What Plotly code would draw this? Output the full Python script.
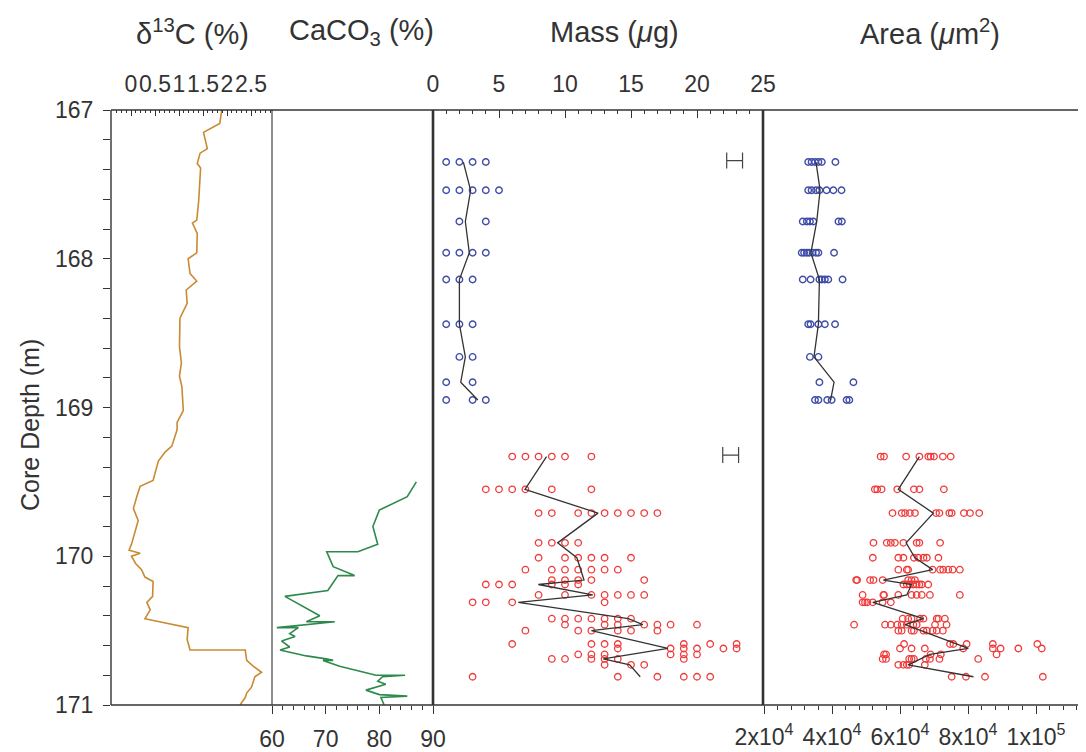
import plotly.graph_objects as go

# page body adds an 8px margin; the figure is sized so it ends at the window edge
PAGE_OFF = 8
WIN_W, WIN_H = 1086, 752
W, H = WIN_W - PAGE_OFF, WIN_H - PAGE_OFF

# ---------------- data ----------------
d13c_depth = [167.00, 167.09, 167.15, 167.26, 167.29, 167.36, 167.39, 167.61, 167.74, 167.76,
              167.83, 167.96, 168.00, 168.10, 168.15, 168.21, 168.30, 168.40, 168.59, 168.70,
              168.79, 168.86, 169.02, 169.10, 169.15, 169.26, 169.30, 169.36, 169.49, 169.53,
              169.60, 169.68, 169.76, 169.85, 169.92, 169.96, 169.98, 170.00, 170.05, 170.09,
              170.14, 170.17, 170.27, 170.31, 170.36, 170.42, 170.45, 170.48, 170.56, 170.63,
              170.63, 170.70, 170.74, 170.78, 170.81, 170.88, 170.92, 170.95, 171.00]
d13c_value = [1.89, 1.85, 1.51, 1.59, 1.44, 1.38, 1.45, 1.41, 1.37, 1.28,
              1.38, 1.37, 1.19, 1.23, 1.37, 1.15, 1.17, 1.02, 1.01, 1.05,
              1.01, 1.06, 1.09, 0.96, 0.96, 0.85, 0.71, 0.57, 0.46, 0.19,
              0.12, 0.05, 0.15, 0.08, 0.01, -0.04, 0.19, 0.01, 0.10, 0.22,
              0.29, 0.46, 0.45, 0.33, 0.40, 0.29, 0.74, 1.19, 1.17, 1.23,
              2.38, 2.41, 2.55, 2.72, 2.58, 2.51, 2.41, 2.38, 2.27]

caco3_depth = [169.50, 169.60, 169.69, 169.80, 169.92, 169.97, 169.97, 170.07, 170.13, 170.13,
               170.23, 170.27, 170.40, 170.44, 170.44, 170.48, 170.48, 170.52, 170.54, 170.57,
               170.61, 170.63, 170.64, 170.67, 170.69, 170.70, 170.70, 170.74, 170.80, 170.80,
               170.81, 170.84, 170.86, 170.90, 170.93, 170.94, 170.95, 171.00]
caco3_value = [86.9, 85.2, 80.0, 78.8, 79.7, 76.0, 70.2, 71.4, 75.4, 72.3,
               70.4, 62.4, 68.9, 66.4, 71.7, 60.9, 64.9, 63.3, 64.3, 61.8,
               63.3, 61.5, 62.7, 66.4, 70.1, 71.4, 69.5, 72.6, 79.4, 84.8,
               80.6, 79.7, 81.2, 77.5, 80.0, 85.2, 80.3, 80.9]

# upper (blue) sample levels
blue_depth = [167.35, 167.54, 167.75, 167.96, 168.14, 168.44, 168.66, 168.83, 168.95]
blue_mass_rows = [[1, 2, 3, 4], [1, 2, 3, 4, 5], [2, 4], [1, 2, 3, 4], [1, 2, 3],
                  [1, 2, 3], [2, 3], [1, 3], [1, 3, 4]]
blue_mass_mean = [2.3, 2.85, 2.45, 2.75, 2.0, 2.0, 2.45, 2.1, 3.4]
blue_area_rows = [[33000, 34000, 35000, 36000, 37000, 41000],
                  [33000, 34000, 35300, 36300, 38400, 40400, 42800],
                  [31400, 32600, 33500, 34500, 41900, 42900],
                  [31100, 31800, 32600, 33300, 34300, 35300, 36000, 40600],
                  [31400, 33700, 36300, 37000, 37900, 38900, 43100],
                  [33000, 33700, 36000, 37900, 40900],
                  [33500, 36000],
                  [36300, 46300],
                  [35000, 36000, 38600, 39900, 44300, 45100]]
blue_area_mean = [35300, 36500, 35500, 33800, 36300, 36000, 34700, 40600, 39600]

# lower (red) sample levels
red_depth = [169.33, 169.55, 169.71, 169.91, 170.01, 170.09, 170.16, 170.19, 170.26, 170.31,
             170.42, 170.46, 170.50, 170.59, 170.62, 170.66, 170.69, 170.73, 170.81]
red_mass_rows = [[6, 7, 8, 9, 10, 12], [4, 5, 6, 7, 9, 12], [8, 9, 11, 12, 13, 14, 15, 16, 17],
                 [8, 9, 10, 11], [8, 10, 11, 12, 13, 15], [7, 9, 10, 11, 12, 13, 14],
                 [9, 10, 11, 12, 16], [4, 5, 6, 9, 10, 11], [8, 10, 12, 13, 14, 15, 16],
                 [3, 4, 6, 13], [9, 10, 11, 12, 13, 14, 15], [10, 13, 14, 16, 17, 18, 20],
                 [7, 11, 12, 14, 15, 17], [6, 12, 13, 14, 19, 21, 23], [14, 18, 19, 20, 22, 23],
                 [11, 12, 13, 18, 19, 20], [9, 10, 12, 13, 14, 19], [13, 15, 16],
                 [3, 14, 17, 19, 20, 21]]
red_mass_mean_depth = [169.33, 169.55, 169.71, 169.91, 170.01, 170.16, 170.19, 170.26, 170.31,
                       170.42, 170.46, 170.50, 170.62, 170.69, 170.73, 170.81]
red_mass_mean = [8.6, 6.97, 12.5, 9.44, 10.9, 11.44, 7.98, 12.1, 6.46,
                 14.8, 15.9, 12.0, 17.8, 12.9, 14.9, 15.7]
red_area_rows = [[54300, 55300, 61800, 65700, 68300, 69000, 70000, 72600, 74900],
                 [52600, 53300, 54600, 59200, 64100, 65700, 72900],
                 [57800, 60500, 61500, 62900, 64400, 70600, 71600, 74500, 75200, 78800, 80600, 83300],
                 [52200, 56100, 57300, 58500, 61000, 64900, 65700, 71800],
                 [52000, 59500, 61000, 64100, 65400, 66900, 67900, 71300],
                 [59500, 62000, 62400, 69600, 71800, 72700, 74200, 75500, 77600],
                 [47100, 47400, 51200, 52200, 54900, 62400, 63400, 64400],
                 [61000, 62000, 62900, 63900, 64900, 65700, 66400, 68300],
                 [49000, 55100, 55300, 59500, 63400, 64900, 66400, 68800, 77600],
                 [49000, 49700, 50400, 52000, 54900, 57300],
                 [60800, 62400, 63400, 65900, 66900, 70800, 71300, 73200],
                 [46500, 55600, 57300, 59200, 60500, 62000, 63900, 64900, 70300, 73700],
                 [59500, 60500, 63400, 64100, 66900, 67900, 69600, 70800, 72600],
                 [61200, 74700, 75700, 79600, 87300, 100400],
                 [60000, 63400, 67300, 78600, 87300, 89600, 94800, 101700],
                 [55300, 55900, 69000, 72000, 88400],
                 [54900, 55900, 62700, 63400, 64100, 67600, 68800, 71600, 83000],
                 [59500, 61000, 62000, 62700, 67300],
                 [75200, 79400, 85000, 102000]]
red_area_mean_depth = [169.33, 169.55, 169.71, 169.91, 170.01, 170.09, 170.16, 170.19, 170.26,
                       170.31, 170.42, 170.46, 170.62, 170.66, 170.73, 170.81]
red_area_mean = [65700, 59500, 69800, 61800, 64400, 69600, 55100, 63400, 62000,
                 52000, 66900, 61500, 80100, 68800, 62400, 81600]

# error-bar glyphs ("H") shown in the mass panel
err_mass = [22.85, 22.55]
err_depth = [167.34, 169.32]
err_half = [0.6, 0.6]

d13c_ticks = [0, 0.5, 1, 1.5, 2, 2.5]
caco3_ticks = [60, 70, 80, 90]
mass_ticks = [0, 5, 10, 15, 20, 25]
area_ticks = [20000, 40000, 60000, 80000, 100000]
area_ticktext = ["2x10<sup>4</sup>", "4x10<sup>4</sup>", "6x10<sup>4</sup>",
                 "8x10<sup>4</sup>", "1x10<sup>5</sup>"]
depth_ticks = [167, 168, 169, 170, 171]


def flatten(depths, rows):
    xs, ys = [], []
    for d, r in zip(depths, rows):
        for v in r:
            xs.append(v)
            ys.append(d)
    return xs, ys


# ---------------- styles ----------------
FONT = "Liberation Sans, Arial, Helvetica, sans-serif"
TXT = "#333333"
LINE = "#333333"
BLUE = "#3F4CA8"
RED = "#F03A3A"
ORANGE = "#C98A33"
GREEN = "#2E8A4C"
MEAN = "#333333"
tickfont = dict(family=FONT, size=23, color=TXT)

fig = go.Figure()

fig.add_trace(go.Scatter(x=d13c_value, y=d13c_depth, mode="lines", xaxis="x", yaxis="y",
                         line=dict(color=ORANGE, width=1.6), showlegend=False))
fig.add_trace(go.Scatter(x=caco3_value, y=caco3_depth, mode="lines", xaxis="x2", yaxis="y",
                         line=dict(color=GREEN, width=1.6), showlegend=False))

bx, by = flatten(blue_depth, blue_mass_rows)
rx, ry = flatten(red_depth, red_mass_rows)
marker_b = dict(symbol="circle-open", size=6.5, color=BLUE, line=dict(width=1.4, color=BLUE))
marker_r = dict(symbol="circle-open", size=6.5, color=RED, line=dict(width=1.3, color=RED))

fig.add_trace(go.Scatter(x=bx, y=by, mode="markers", xaxis="x3", yaxis="y",
                         marker=marker_b, showlegend=False))
fig.add_trace(go.Scatter(x=rx, y=ry, mode="markers", xaxis="x3", yaxis="y",
                         marker=marker_r, showlegend=False))
fig.add_trace(go.Scatter(x=blue_mass_mean, y=blue_depth, mode="lines", xaxis="x3", yaxis="y",
                         line=dict(color=MEAN, width=1.3), showlegend=False))
fig.add_trace(go.Scatter(x=red_mass_mean, y=red_mass_mean_depth, mode="lines", xaxis="x3", yaxis="y",
                         line=dict(color=MEAN, width=1.3), showlegend=False))
fig.add_trace(go.Scatter(x=err_mass, y=err_depth, mode="markers", xaxis="x3", yaxis="y",
                         marker=dict(size=1, color="rgba(0,0,0,0)"),
                         error_x=dict(type="data", array=err_half, color="#444444",
                                      thickness=1.2, width=8),
                         showlegend=False))

bax, bay = flatten(blue_depth, blue_area_rows)
rax, ray = flatten(red_depth, red_area_rows)
fig.add_trace(go.Scatter(x=bax, y=bay, mode="markers", xaxis="x4", yaxis="y",
                         marker=marker_b, showlegend=False))
fig.add_trace(go.Scatter(x=rax, y=ray, mode="markers", xaxis="x4", yaxis="y",
                         marker=marker_r, showlegend=False))
fig.add_trace(go.Scatter(x=blue_area_mean, y=blue_depth, mode="lines", xaxis="x4", yaxis="y",
                         line=dict(color=MEAN, width=1.3), showlegend=False))
fig.add_trace(go.Scatter(x=red_area_mean, y=red_area_mean_depth, mode="lines", xaxis="x4", yaxis="y",
                         line=dict(color=MEAN, width=1.3), showlegend=False))

# ---------------- layout (window pixel positions) ----------------
X0, X1, X2, X3 = 111, 272, 433, 763
YT, YB = 110, 705


def px(p):
    return (p - PAGE_OFF) / W


def py(p):
    return 1 - (p - PAGE_OFF) / H


common = dict(showgrid=False, zeroline=False, showline=False, anchor="y", automargin=False,
              tickcolor=LINE, tickwidth=1, tickfont=tickfont, tickangle=0, tickmode="array")

fig.update_layout(
    width=W, height=H, margin=dict(l=0, r=0, t=0, b=0, autoexpand=False),
    paper_bgcolor="white", plot_bgcolor="white",
    xaxis=dict(domain=[px(X0), px(X1)], range=[(111 - 131) / 48, (272 - 131) / 48],
               side="top", tickvals=d13c_ticks, ticktext=[str(v) for v in d13c_ticks],
               ticks="inside", ticklen=6, ticklabelstandoff=12,
               minor=dict(tick0=0, dtick=0.1, ticks="inside", ticklen=3, tickcolor=LINE),
               **common),
    xaxis2=dict(domain=[px(X1), px(X2)], range=[60, 90], side="bottom",
                tickvals=caco3_ticks, ticks="outside", ticklen=8, ticklabelstandoff=5,
                minor=dict(tick0=60, dtick=2, ticks="outside", ticklen=4, tickcolor=LINE),
                **common),
    xaxis3=dict(domain=[px(X2), px(X3)], range=[0, 25], side="top",
                tickvals=mass_ticks, ticks="inside", ticklen=8, ticklabelstandoff=12,
                minor=dict(tick0=0, dtick=1, ticks="inside", ticklen=4, tickcolor=LINE),
                **common),
    xaxis4=dict(domain=[px(X3), 1.0], range=[20000 - 10000 / 34, 20000 + (WIN_W - 764) / 34 * 10000],
                side="bottom", tickvals=area_ticks, ticktext=area_ticktext,
                ticks="outside", ticklen=8, ticklabelstandoff=3,
                minor=dict(tick0=0, dtick=4000, ticks="outside", ticklen=4, tickcolor=LINE),
                **common),
    yaxis=dict(domain=[py(YB), py(YT)], range=[171, 167], anchor="x", automargin=False,
               tickvals=depth_ticks, ticks="outside", ticklen=7, ticklabelstandoff=5,
               minor=dict(tick0=167, dtick=0.2, ticks="outside", ticklen=7, tickcolor=LINE),
               showgrid=False, zeroline=False, showline=False, tickcolor=LINE,
               tickfont=tickfont, tickmode="array"),
)

shapes = [
    dict(type="line", xref="paper", yref="paper", x0=px(X0), x1=1, y0=py(YT), y1=py(YT),
         line=dict(color=LINE, width=1.4)),
    dict(type="line", xref="paper", yref="paper", x0=px(X0), x1=1, y0=py(YB), y1=py(YB),
         line=dict(color=LINE, width=1.4)),
    dict(type="line", xref="paper", yref="paper", x0=px(X0), x1=px(X0), y0=py(YB), y1=py(YT),
         line=dict(color=LINE, width=1.4)),
    dict(type="line", xref="paper", yref="paper", x0=px(X1), x1=px(X1), y0=py(YB), y1=py(YT),
         line=dict(color=LINE, width=1.1)),
    dict(type="line", xref="paper", yref="paper", x0=px(X2), x1=px(X2), y0=py(YB), y1=py(YT),
         line=dict(color=LINE, width=2.6)),
    dict(type="line", xref="paper", yref="paper", x0=px(X3), x1=px(X3), y0=py(YB), y1=py(YT),
         line=dict(color=LINE, width=2.6)),
]
fig.update_layout(shapes=shapes)

title_font = dict(family=FONT, size=29, color=TXT)
ann = [
    dict(text="δ<sup>13</sup>C (%)", x=px(192), y=py(32)),
    dict(text="CaCO<sub>3</sub> (%)", x=px(361), y=py(32)),
    dict(text="Mass (<i>μ</i>g)", x=px(614), y=py(32)),
    dict(text="Area (<i>μ</i>m<sup>2</sup>)", x=px(930), y=py(32)),
]
for a in ann:
    a.update(xref="paper", yref="paper", showarrow=False, font=title_font,
             xanchor="center", yanchor="middle")
ann.append(dict(text="Core Depth (m)", x=px(30), y=py(425), xref="paper", yref="paper",
                showarrow=False, textangle=-90, font=dict(family=FONT, size=25, color=TXT),
                xanchor="center", yanchor="middle"))
fig.update_layout(annotations=ann)

fig.write_html("out.html")
